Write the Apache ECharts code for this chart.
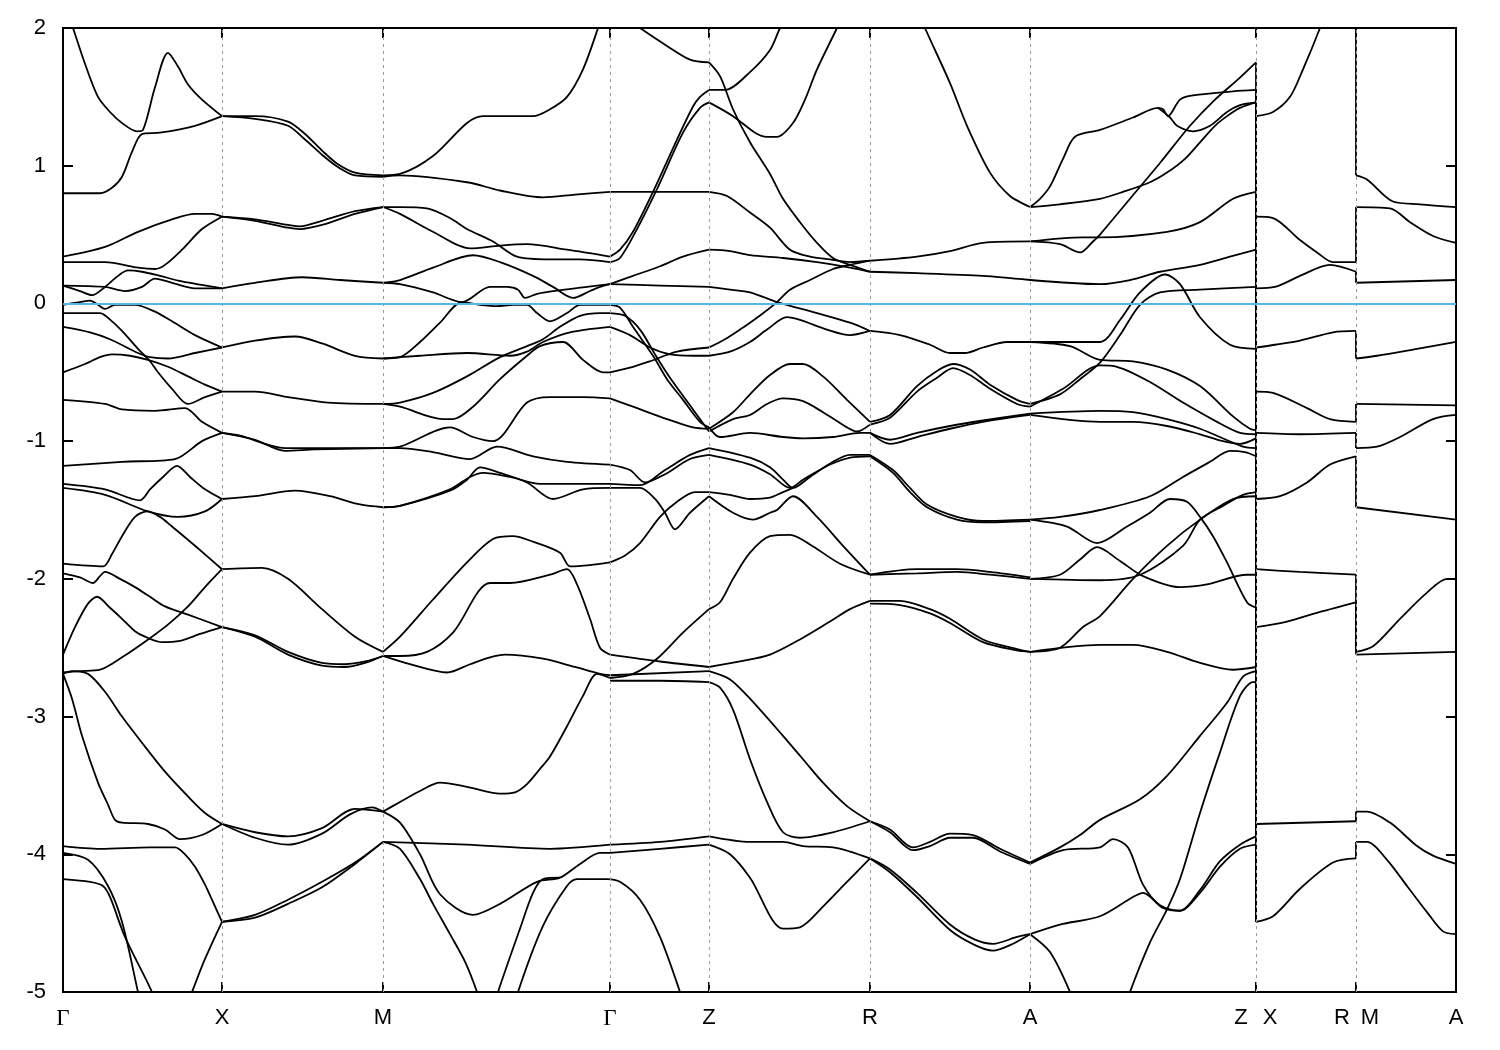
<!DOCTYPE html>
<html><head><meta charset="utf-8">
<script src="https://cdn.jsdelivr.net/npm/echarts@6/dist/echarts.min.js"></script>
<style>html,body{margin:0;padding:0;background:#fff}#c{width:1500px;height:1050px}</style>
</head><body><div id="c"></div>
<script>
// high-symmetry points along the k-path (path distance, arbitrary units)
const kPoints = [0,159,320,547,646,807,967,1193,1293,1393];
const labelPos = [0,159,320,547,646,807,967,1178,1207,1279,1307,1393];
const labelText = ['Γ','X','M','Γ','Z','R','A','Z','X','R','M','A'];
const fermiLevel = 0;
const zxBreak = 1193, rmBreak = 1293;

// bands, flat [k,E,k,E,...], energies in eV, per path segment
const bandsGX = [
[0,2.21,10,2.00,22,1.74,35,1.50,47,1.39,59,1.31,74,1.25,80,1.26,92,1.57,105,1.82,115,1.72,125,1.59,139,1.48,159,1.36],
[0,0.80,37,0.80,49,0.84,59,0.92,69,1.10,79,1.23,97,1.24,132,1.29,159,1.36],
[0,0.34,42,0.41,75,0.52,109,0.61,132,0.65,149,0.65,159,0.63],
[0,0.30,42,0.30,75,0.26,92,0.25,102,0.28,119,0.39,139,0.54,159,0.63],
[0,0.13,17,0.09,29,0.06,42,0.12,55,0.20,65,0.24,79,0.23,97,0.20,119,0.16,159,0.11],
[0,0.13,42,0.12,62,0.09,79,0.12,92,0.18,109,0.15,132,0.11,159,0.11],
[0,-0.01,17,0.01,27,0.02,35,-0.01,42,-0.04,52,-0.01,72,-0.01,92,-0.06,109,-0.13,132,-0.23,159,-0.32],
[0,-0.07,37,-0.07,49,-0.13,59,-0.20,75,-0.33,87,-0.42,95,-0.50,109,-0.62,125,-0.73,142,-0.68,159,-0.64],
[0,-0.17,27,-0.21,47,-0.26,75,-0.36,87,-0.39,105,-0.40,132,-0.36,159,-0.32],
[0,-0.50,22,-0.44,37,-0.39,49,-0.37,67,-0.38,85,-0.41,105,-0.46,125,-0.53,142,-0.59,159,-0.64],
[0,-0.70,42,-0.73,59,-0.77,92,-0.78,122,-0.76,139,-0.86,159,-0.94],
[0,-1.18,59,-1.15,112,-1.13,139,-1.00,159,-0.94],
[0,-1.31,42,-1.35,77,-1.43,87,-1.35,100,-1.26,114,-1.18,127,-1.26,142,-1.35,159,-1.42],
[0,-1.34,42,-1.39,85,-1.51,115,-1.55,142,-1.51,159,-1.42],
[0,-1.89,40,-1.91,49,-1.82,59,-1.69,72,-1.55,84,-1.51,97,-1.55,109,-1.62,132,-1.76,159,-1.93],
[0,-1.96,17,-1.99,30,-2.03,37,-1.98,42,-1.95,57,-2.00,72,-2.06,87,-2.13,102,-2.20,125,-2.26,159,-2.35],
[0,-2.55,12,-2.35,25,-2.18,34,-2.13,47,-2.21,59,-2.29,72,-2.38,82,-2.42,99,-2.46,117,-2.45,137,-2.40,159,-2.35],
[0,-2.68,17,-2.67,37,-2.66,59,-2.57,89,-2.42,107,-2.32,125,-2.20,142,-2.06,159,-1.93],
[0,-2.69,9,-2.67,25,-2.69,42,-2.82,59,-3.00,79,-3.19,102,-3.40,125,-3.58,142,-3.70,159,-3.78],
[0,-2.69,9,-2.87,19,-3.14,35,-3.48,45,-3.64,52,-3.75,59,-3.77,85,-3.78,102,-3.82,117,-3.89,139,-3.86,159,-3.78],
[0,-3.94,37,-3.96,87,-3.95,112,-3.95,122,-4.00,132,-4.09,142,-4.22,149,-4.33,159,-4.49],
[0,-3.99,25,-4.04,45,-4.23,59,-4.49,75,-5.00,79,-5.13],
[0,-4.18,27,-4.20,40,-4.23,47,-4.31,62,-4.60,89,-5.00,95,-5.13],
[122,-5.13,129,-5.00,142,-4.76,159,-4.49]
];
const bandsXM = [
[159,1.36,192,1.36,225,1.32,242,1.23,259,1.11,275,1.01,292,0.95,320,0.93],
[159,1.36,192,1.34,225,1.29,242,1.19,259,1.08,275,0.99,292,0.93,320,0.92],
[159,0.63,192,0.61,225,0.57,237,0.56,259,0.60,292,0.67,320,0.70],
[159,0.63,192,0.60,225,0.55,237,0.54,259,0.57,292,0.65,320,0.70],
[159,0.11,192,0.15,239,0.19,277,0.17,320,0.15],
[159,-0.32,192,-0.27,232,-0.24,259,-0.29,292,-0.38,320,-0.40],
[159,-0.64,192,-0.64,225,-0.68,265,-0.72,320,-0.73],
[159,-0.94,177,-0.96,222,-1.05,252,-1.05,320,-1.05],
[159,-0.94,192,-0.99,222,-1.07,252,-1.06,320,-1.05],
[159,-1.42,192,-1.40,232,-1.36,267,-1.40,297,-1.46,320,-1.48],
[159,-1.93,199,-1.92,225,-2.00,259,-2.22,292,-2.42,320,-2.53],
[159,-2.35,192,-2.41,225,-2.53,259,-2.61,282,-2.62,302,-2.60,320,-2.56],
[159,-2.35,192,-2.42,225,-2.55,259,-2.63,282,-2.64,302,-2.61,320,-2.56],
[159,-3.78,192,-3.84,225,-3.87,259,-3.81,292,-3.67,320,-3.69],
[159,-3.78,192,-3.88,225,-3.93,259,-3.85,287,-3.71,309,-3.66,320,-3.69],
[159,-4.49,192,-4.44,225,-4.33,259,-4.20,292,-4.06,320,-3.91],
[159,-4.49,192,-4.46,225,-4.36,259,-4.24,292,-4.07,320,-3.91]
];
const bandsMG = [
[320,0.93,337,0.94,370,1.07,404,1.31,420,1.36,470,1.36,487,1.41,504,1.50,520,1.70,535,2.00,540,2.13],
[320,0.92,337,0.93,404,0.88,437,0.82,480,0.77,512,0.79,547,0.81],
[320,0.70,337,0.70,364,0.69,387,0.62,404,0.54,430,0.45,454,0.34,487,0.32,517,0.32,547,0.30],
[320,0.70,337,0.65,370,0.52,407,0.40,437,0.42,464,0.43,504,0.39,547,0.34],
[320,0.15,337,0.17,370,0.26,410,0.35,437,0.30,470,0.20,490,0.12,510,0.04,527,0.09,537,0.12,547,0.14],
[320,0.15,337,0.14,370,0.08,399,0.01,427,0.12,444,0.12,455,0.10,462,0.04,474,0.07,490,0.09,524,0.12,547,0.14],
[320,-0.40,337,-0.39,357,-0.28,377,-0.14,399,0.01,417,-0.01,434,-0.02,450,-0.01,464,-0.01,474,-0.07,487,-0.13,504,-0.07,517,-0.01,547,-0.01],
[320,-0.40,357,-0.38,404,-0.36,447,-0.38,464,-0.35,480,-0.28,507,-0.21,547,-0.17],
[320,-0.73,337,-0.72,370,-0.65,404,-0.53,437,-0.39,464,-0.31,480,-0.26,497,-0.17,517,-0.09,537,-0.07,547,-0.07],
[320,-0.73,337,-0.75,380,-0.84,390,-0.84,410,-0.75,437,-0.55,464,-0.38,477,-0.31,500,-0.28,520,-0.41,540,-0.50,547,-0.50],
[320,-1.05,337,-1.04,387,-0.90,410,-0.97,430,-1.00,464,-0.72,487,-0.68,520,-0.68,547,-0.69],
[320,-1.05,337,-1.05,370,-1.08,407,-1.13,434,-1.04,470,-1.11,504,-1.15,547,-1.17],
[320,-1.48,337,-1.47,387,-1.36,404,-1.28,417,-1.19,437,-1.23,464,-1.30,490,-1.42,520,-1.35,547,-1.34],
[320,-1.48,337,-1.47,387,-1.35,407,-1.26,420,-1.23,447,-1.26,477,-1.31,547,-1.31],
[320,-2.53,337,-2.42,370,-2.15,404,-1.88,430,-1.71,450,-1.69,470,-1.73,497,-1.81,507,-1.91,527,-1.90,547,-1.88],
[320,-2.56,337,-2.56,364,-2.53,390,-2.39,427,-2.03,447,-2.03,487,-1.97,504,-1.93,514,-2.04,527,-2.29,537,-2.50,547,-2.55],
[320,-2.56,347,-2.62,384,-2.68,407,-2.62,427,-2.57,442,-2.55,480,-2.58,512,-2.64,537,-2.69,547,-2.70],
[320,-3.69,337,-3.62,357,-3.54,377,-3.48,404,-3.51,437,-3.56,452,-3.55,464,-3.49,477,-3.38,487,-3.29,504,-3.07,520,-2.85,534,-2.69,547,-2.72],
[320,-3.69,337,-3.77,357,-4.00,377,-4.29,410,-4.44,437,-4.36,474,-4.20,497,-4.17,517,-4.07,537,-3.99,547,-3.99],
[320,-3.91,404,-3.93,487,-3.96,547,-3.93],
[320,-3.91,337,-3.96,357,-4.18,370,-4.36,387,-4.58,402,-4.78,414,-5.00,419,-5.13],
[430,-5.13,435,-5.00,457,-4.54,470,-4.28,480,-4.18,497,-4.17],
[452,-5.13,455,-5.00,480,-4.52,504,-4.23,514,-4.18,544,-4.18,557,-4.20,577,-4.33,597,-4.60,617,-5.00,622,-5.13]
];
const bandsGZ = [
[547,0.81,646,0.81],
[547,0.34,557,0.39,570,0.52,590,0.81,614,1.19,630,1.43,637,1.50,646,1.55],
[547,0.30,557,0.33,574,0.54,594,0.83,620,1.24,637,1.42,646,1.46],
[562,2.08,577,2.00,604,1.87,627,1.77,646,1.75],
[547,0.14,570,0.20,597,0.27,620,0.34,646,0.39],
[547,0.14,597,0.13,646,0.12],
[547,-0.01,557,-0.03,570,-0.17,590,-0.38,604,-0.55,620,-0.70,637,-0.86,646,-0.90],
[547,-0.07,562,-0.09,577,-0.19,592,-0.37,607,-0.54,630,-0.77,646,-0.93],
[547,-0.50,570,-0.46,587,-0.42,614,-0.35,646,-0.32],
[547,-0.17,567,-0.23,587,-0.32,607,-0.37,630,-0.38,646,-0.38],
[547,-0.69,570,-0.75,604,-0.84,630,-0.90,646,-0.91],
[547,-1.17,567,-1.21,582,-1.30,602,-1.24,627,-1.13,646,-1.10],
[547,-1.31,577,-1.32,602,-1.21,627,-1.10,646,-1.05],
[547,-1.34,577,-1.34,592,-1.42,602,-1.52,612,-1.64,627,-1.52,646,-1.40],
[547,-1.88,562,-1.83,577,-1.74,597,-1.55,614,-1.44,632,-1.37,646,-1.37],
[547,-2.72,570,-2.69,594,-2.58,620,-2.39,646,-2.22],
[547,-2.55,597,-2.60,646,-2.64],
[547,-2.70,646,-2.67],
[547,-2.74,597,-2.74,646,-2.75],
[547,-3.93,597,-3.91,646,-3.87],
[547,-3.99,597,-3.96,646,-3.93]
];
const bandsZR = [
[646,1.55,662,1.55,687,1.68,707,1.84,717,2.00,727,2.13],
[646,1.46,670,1.36,692,1.24,704,1.21,714,1.21,730,1.31,742,1.48,754,1.70,774,2.00,780,2.10],
[646,1.75,657,1.65,670,1.41,687,1.17,707,0.94,720,0.76,737,0.59,754,0.44,770,0.33,787,0.28,807,0.23],
[646,0.81,664,0.78,687,0.66,707,0.55,727,0.39,747,0.34,767,0.32,787,0.30,807,0.31],
[646,0.39,667,0.38,687,0.35,720,0.33,754,0.30,787,0.26,807,0.23],
[646,0.12,667,0.10,687,0.08,714,0.01,754,-0.07,787,-0.14,807,-0.20],
[646,-0.32,662,-0.26,677,-0.19,687,-0.14,702,-0.06,714,0.01,727,0.10,747,0.17,770,0.25,787,0.28,807,0.31],
[646,-0.38,667,-0.35,687,-0.28,704,-0.19,724,-0.10,737,-0.12,764,-0.19,787,-0.23,807,-0.20],
[646,-0.91,670,-0.79,687,-0.66,707,-0.52,727,-0.44,740,-0.44,760,-0.53,784,-0.70,807,-0.86],
[646,-0.93,670,-0.84,687,-0.81,704,-0.73,720,-0.69,740,-0.71,760,-0.79,784,-0.90,794,-0.93,807,-0.88],
[646,-0.90,657,-0.97,687,-0.94,720,-0.97,740,-0.98,770,-0.97,797,-0.94,807,-0.94],
[646,-1.05,687,-1.12,707,-1.19,720,-1.28,730,-1.34,747,-1.26,770,-1.15,787,-1.10,807,-1.10],
[646,-1.10,687,-1.17,707,-1.24,727,-1.34,740,-1.28,767,-1.17,787,-1.12,807,-1.11],
[646,-1.37,667,-1.39,687,-1.42,707,-1.41,720,-1.37,730,-1.34],
[646,-1.40,670,-1.52,690,-1.57,707,-1.52,714,-1.50,730,-1.40,754,-1.55,780,-1.76,807,-1.97],
[646,-2.22,657,-2.17,670,-2.00,687,-1.81,707,-1.69,727,-1.68,747,-1.75,777,-1.89,807,-1.97],
[646,-2.64,677,-2.60,707,-2.55,737,-2.44,767,-2.31,787,-2.22,807,-2.16],
[646,-2.67,667,-2.73,687,-2.87,720,-3.14,740,-3.31,760,-3.48,784,-3.65,807,-3.76],
[646,-2.75,657,-2.79,670,-2.95,687,-3.31,704,-3.62,720,-3.84,737,-3.88,770,-3.84,807,-3.76],
[646,-3.87,687,-3.91,720,-3.91,740,-3.94,770,-3.95,787,-3.98,807,-4.03],
[646,-3.93,667,-4.00,687,-4.17,720,-4.54,737,-4.53,760,-4.38,780,-4.23,807,-4.03]
];
const bandsRA = [
[855,2.13,862,2.00,887,1.60,904,1.29,927,0.95,947,0.78,964,0.71,967,0.70],
[807,0.31,854,0.34,887,0.38,920,0.44,967,0.45],
[807,0.23,854,0.22,920,0.20,967,0.17],
[807,-0.20,837,-0.23,867,-0.30,887,-0.36,902,-0.36,920,-0.32,944,-0.28,967,-0.28],
[807,-0.86,827,-0.81,854,-0.60,874,-0.49,890,-0.44,907,-0.48,927,-0.59,954,-0.70,967,-0.73],
[807,-0.88,827,-0.83,854,-0.64,874,-0.54,890,-0.47,907,-0.52,927,-0.62,954,-0.73,967,-0.75],
[807,-0.94,827,-0.99,854,-0.94,887,-0.89,920,-0.85,967,-0.80],
[807,-0.94,827,-1.02,854,-0.97,887,-0.91,920,-0.86,967,-0.81],
[807,-1.10,830,-1.21,847,-1.34,864,-1.46,894,-1.55,920,-1.58,967,-1.57],
[807,-1.11,830,-1.23,847,-1.37,864,-1.48,894,-1.57,920,-1.59,967,-1.58],
[807,-1.97,854,-1.93,894,-1.93,927,-1.95,967,-1.99],
[807,-1.97,854,-1.96,894,-1.95,927,-1.97,967,-2.00],
[807,-2.16,837,-2.16,867,-2.22,887,-2.29,920,-2.44,954,-2.51,967,-2.53],
[807,-2.18,837,-2.19,867,-2.25,887,-2.32,920,-2.46,954,-2.52,967,-2.53],
[807,-3.76,827,-3.82,850,-3.95,867,-3.91,887,-3.85,910,-3.86,937,-3.96,967,-4.06],
[807,-3.76,827,-3.84,850,-3.97,867,-3.94,887,-3.88,910,-3.88,937,-3.98,967,-4.07],
[807,-4.03,827,-4.11,854,-4.28,887,-4.51,912,-4.62,930,-4.65,954,-4.60,967,-4.58],
[807,-4.03,827,-4.13,854,-4.31,887,-4.55,912,-4.66,930,-4.70,947,-4.66,967,-4.58]
];
const bandsAZ = [
[967,0.70,977,0.76,987,0.85,1000,1.05,1012,1.21,1037,1.26,1070,1.35,1095,1.42,1100,1.41,1105,1.36,1117,1.48,1130,1.51,1170,1.54,1193,1.55],
[1095,1.42,1107,1.35,1114,1.29,1130,1.25,1147,1.29,1164,1.39,1177,1.44,1193,1.46],
[967,0.70,997,0.72,1037,0.76,1060,0.81,1087,0.88,1104,0.95,1122,1.05,1137,1.17,1152,1.29,1164,1.36,1177,1.42,1193,1.46],
[967,0.45,997,0.43,1017,0.37,1030,0.45,1037,0.50,1067,0.76,1097,1.02,1127,1.29,1152,1.48,1177,1.64,1193,1.75],
[967,0.45,1020,0.48,1037,0.48,1104,0.52,1137,0.59,1170,0.76,1193,0.81],
[967,0.17,1037,0.14,1067,0.17,1097,0.23,1137,0.28,1167,0.34,1193,0.39],
[967,-0.28,1037,-0.28,1057,-0.12,1077,0.08,1102,0.21,1117,0.14,1137,-0.10,1167,-0.30,1193,-0.33],
[967,-0.73,997,-0.66,1017,-0.55,1037,-0.43,1057,-0.23,1077,-0.01,1097,0.08,1137,0.10,1193,0.12],
[967,-0.28,1007,-0.31,1037,-0.41,1070,-0.42,1104,-0.48,1137,-0.60,1170,-0.82,1187,-0.91,1193,-0.92],
[967,-0.75,1000,-0.62,1037,-0.45,1054,-0.46,1087,-0.57,1120,-0.72,1154,-0.86,1177,-0.94,1193,-0.95],
[967,-0.80,1037,-0.78,1070,-0.79,1104,-0.84,1137,-0.91,1180,-1.04,1193,-1.05],
[967,-0.81,1037,-0.86,1070,-0.86,1104,-0.89,1137,-0.95,1160,-1.00,1177,-1.02,1193,-0.98],
[967,-1.57,997,-1.55,1037,-1.50,1087,-1.40,1120,-1.26,1147,-1.15,1167,-1.07,1182,-1.08,1193,-1.11],
[967,-1.57,1004,-1.62,1034,-1.74,1064,-1.62,1087,-1.52,1107,-1.42,1124,-1.44,1137,-1.55,1150,-1.69,1164,-1.88,1184,-2.17,1193,-2.21],
[967,-2.00,997,-1.97,1017,-1.86,1034,-1.77,1057,-1.87,1080,-1.98,1117,-2.06,1144,-2.04,1184,-1.97,1193,-1.97],
[967,-2.00,1037,-2.01,1077,-1.97,1120,-1.76,1137,-1.57,1160,-1.47,1180,-1.39,1193,-1.37],
[967,-2.53,997,-2.50,1020,-2.35,1037,-2.27,1070,-2.00,1104,-1.76,1137,-1.57,1170,-1.42,1193,-1.40],
[967,-2.53,1037,-2.48,1070,-2.48,1104,-2.53,1137,-2.61,1170,-2.66,1193,-2.64],
[967,-4.06,997,-3.95,1017,-3.86,1037,-3.75,1077,-3.60,1104,-3.43,1137,-3.14,1164,-2.90,1180,-2.71,1193,-2.67],
[967,-4.58,997,-4.51,1037,-4.45,1070,-4.31,1080,-4.28,1100,-4.39,1117,-4.41,1137,-4.28,1157,-4.09,1177,-3.96,1193,-3.93],
[1062,-5.13,1067,-5.00,1087,-4.64,1104,-4.40,1117,-4.18,1137,-3.70,1157,-3.26,1177,-2.85,1190,-2.75,1193,-2.75],
[967,-4.07,1000,-3.97,1037,-3.95,1050,-3.89,1065,-3.95,1080,-4.22,1097,-4.37,1117,-4.41,1137,-4.26,1157,-4.05,1177,-3.93,1193,-3.87],
[967,-4.58,987,-4.71,1007,-5.00,1012,-5.13]
];
const bandsXR = [
[1193,1.36,1210,1.39,1227,1.50,1240,1.70,1257,2.00,1267,2.21,1293,2.90],
[1193,0.63,1210,0.62,1237,0.46,1254,0.37,1270,0.30,1293,0.30],
[1193,0.11,1212,0.12,1237,0.20,1267,0.28,1293,0.23],
[1193,-0.32,1212,-0.30,1237,-0.27,1270,-0.21,1293,-0.20],
[1193,-0.64,1210,-0.65,1244,-0.76,1267,-0.84,1293,-0.86],
[1193,-0.94,1237,-0.95,1293,-0.94],
[1193,-1.42,1217,-1.40,1244,-1.30,1267,-1.17,1293,-1.11],
[1193,-1.93,1237,-1.95,1293,-1.97],
[1193,-2.35,1224,-2.31,1257,-2.24,1293,-2.17],
[1193,-3.78,1293,-3.76],
[1193,-4.49,1210,-4.45,1237,-4.25,1270,-4.06,1293,-4.03]
];
const bandsMA = [
[1293,0.93,1304,0.90,1330,0.74,1357,0.72,1393,0.70],
[1293,0.70,1327,0.69,1347,0.59,1370,0.49,1393,0.44],
[1293,0.15,1393,0.17],
[1293,-0.40,1314,-0.38,1354,-0.33,1393,-0.28],
[1293,-0.73,1393,-0.74],
[1293,-1.05,1314,-1.04,1337,-0.97,1370,-0.84,1393,-0.81],
[1293,-1.48,1393,-1.57],
[1293,-2.53,1310,-2.49,1337,-2.29,1364,-2.10,1384,-2.00,1393,-2.00],
[1293,-2.55,1393,-2.53],
[1293,-3.69,1304,-3.69,1327,-3.77,1354,-3.94,1370,-4.01,1393,-4.07],
[1293,-3.91,1304,-3.91,1324,-4.04,1344,-4.23,1364,-4.42,1380,-4.56,1393,-4.58]
];

const segments = [bandsGX,bandsXM,bandsMG,bandsGZ,bandsZR,bandsRA,bandsAZ,bandsXR,bandsMA];
function toPts(f){const p=[];for(let i=0;i<f.length;i+=2)p.push([f[i],f[i+1]]);return p;}
// connect band ends across the discontinuous path jumps (sorted by energy)
function jumps(before, after, k){
  const a=before.filter(c=>c[c.length-2]===k).map(c=>c[c.length-1]).sort((p,q)=>q-p);
  const b=after.filter(c=>c[0]===k).map(c=>c[1]).sort((p,q)=>q-p);
  const n=Math.max(a.length,b.length), out=[];
  for(let i=0;i<n;i++){out.push([[k,a[Math.min(i,a.length-1)]],[k,b[Math.min(i,b.length-1)]]]);}
  return out;
}
const series=[];
function addLine(pts,smooth){
  series.push({type:'line',data:pts,showSymbol:false,symbol:'none',smooth:smooth,clip:true,silent:true,
    lineStyle:{color:'#000',width:1.8},z:3,animation:false});
}
segments.forEach(seg=>seg.forEach(c=>addLine(toPts(c),0.3)));
jumps(bandsAZ,bandsXR,zxBreak).forEach(p=>addLine(p,false));
jumps(bandsXR,bandsMA,rmBreak).forEach(p=>addLine(p,false));
// dashed verticals at symmetry points and the Fermi level line
series.push({type:'line',data:[],silent:true,z:1,animation:false,
  markLine:{symbol:'none',silent:true,label:{show:false},animation:false,
    lineStyle:{color:'#9a9a9a',type:[3,4],width:1},
    data:kPoints.slice(1,-1).map(k=>({xAxis:k}))}});
series.push({type:'line',data:[],silent:true,z:5,animation:false,
  markLine:{symbol:'none',silent:true,label:{show:false},animation:false,
    lineStyle:{color:'#56b4e9',type:'solid',width:2},data:[{yAxis:fermiLevel}]}});

const font='"Liberation Sans", Arial, sans-serif';
const chart=echarts.init(document.getElementById('c'),null,{renderer:'canvas'});
const tickStyle={show:true,inside:true,length:10,lineStyle:{color:'#000',width:2}};
const noLine={show:false,onZero:false};
chart.setOption({
  animation:false,
  backgroundColor:'#fff',
  grid:{left:63,right:44,top:28,bottom:58,show:true,borderColor:'#000',borderWidth:2,backgroundColor:'transparent'},
  xAxis:[{
    type:'value',min:0,max:1393,position:'bottom',
    axisLine:noLine,splitLine:{show:false},
    axisTick:Object.assign({customValues:kPoints.slice(1,-1)},tickStyle),
    axisLabel:{customValues:labelPos,margin:15,color:'#000',fontSize:22,fontFamily:font,
      formatter:v=>{const i=labelPos.indexOf(v);const t=i>=0?labelText[i]:'';return t==='Γ'?'{g|Γ}':t;},
      rich:{g:{fontFamily:'"Liberation Serif", "Times New Roman", serif',fontSize:23,color:'#000'}}}
  },{
    type:'value',min:0,max:1393,position:'top',
    axisLine:noLine,splitLine:{show:false},axisLabel:{show:false},
    axisTick:Object.assign({customValues:kPoints.slice(1,-1)},tickStyle)
  }],
  yAxis:[{
    type:'value',min:-5,max:2,interval:1,position:'left',
    axisLine:noLine,splitLine:{show:false},axisTick:tickStyle,
    axisLabel:{margin:17,color:'#000',fontSize:22,fontFamily:font}
  },{
    type:'value',min:-5,max:2,interval:1,position:'right',
    axisLine:noLine,splitLine:{show:false},axisTick:tickStyle,axisLabel:{show:false}
  }],
  series:series
});
</script>
</body></html>
